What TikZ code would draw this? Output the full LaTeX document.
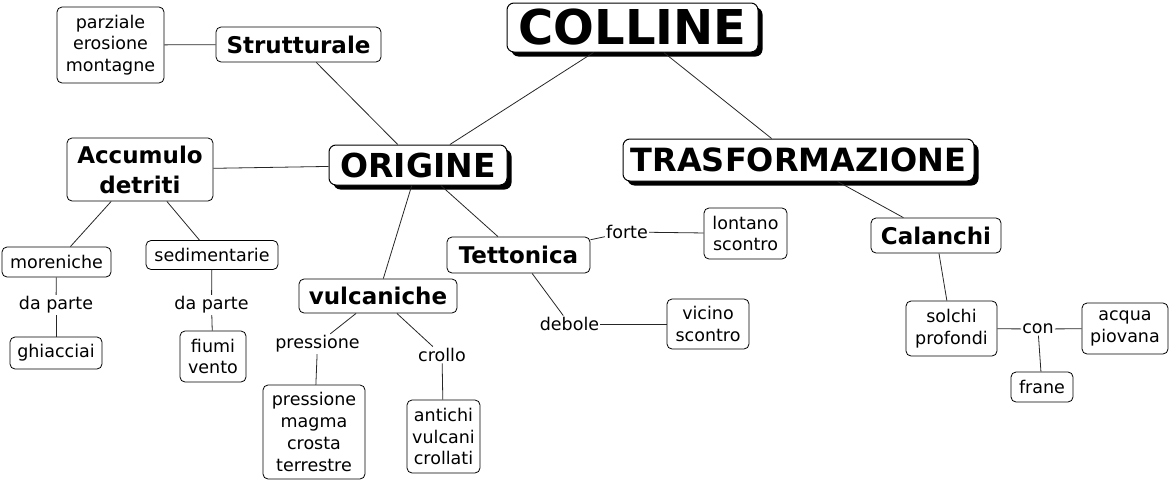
\documentclass[tikz,border=0pt]{standalone}
\usepackage{fontspec}
\setmainfont{DejaVu Sans}
\usetikzlibrary{shadows}
\tikzset{
  conn/.style={line width=0.8pt, black!85},
  box/.style={draw, line width=0.8pt, rounded corners=5pt, fill=white, align=center, inner sep=0pt, font=\fontsize{17.5}{21.8}\selectfont},
  bbox/.style={box, font=\fontsize{23}{30}\selectfont\bfseries},
  mainbox/.style={box, line width=1pt, rounded corners=7pt, drop shadow={fill=black, opacity=1, shadow xshift=4.5pt, shadow yshift=-4.5pt}},
  lab/.style={fill=white, inner xsep=1pt, inner ysep=1.5pt, font=\fontsize{17.5}{21.8}\selectfont},
}
\begin{document}
\begin{tikzpicture}[x=1pt, y=-1pt]
\useasboundingbox (0,0) rectangle (1171,482);
% main nodes
\node[mainbox, minimum width=251, minimum height=49, font=\fontsize{48}{58}\selectfont\bfseries] (colline) at (632.5,27.5) {COLLINE};
\node[mainbox, minimum width=178, minimum height=40, font=\fontsize{33}{40}\selectfont\bfseries] (origine) at (418,165) {ORIGINE};
\node[mainbox, minimum width=351, minimum height=42, font=\fontsize{32}{40}\selectfont\bfseries] (trasf) at (798.5,160) {TRASFORMAZIONE};
% level 2
\node[bbox, minimum width=165, minimum height=35] (strutturale) at (298.5,44.5) {Strutturale};
\node[bbox, minimum width=146, minimum height=63] (accumulo) at (140,169.5) {Accumulo\\detriti};
\node[bbox, minimum width=158, minimum height=34] (vulcaniche) at (378,296) {vulcaniche};
\node[bbox, minimum width=143, minimum height=36] (tettonica) at (518.5,255) {Tettonica};
\node[bbox, minimum width=130, minimum height=35] (calanchi) at (936,235.5) {Calanchi};
% leaves
\node[box, minimum width=107, minimum height=76] (parziale) at (110.5,45) {parziale\\erosione\\montagne};
\node[box, minimum width=109, minimum height=30] (moreniche) at (56.5,262) {moreniche};
\node[box, minimum width=132, minimum height=29] (sedimentarie) at (212,255) {sedimentarie};
\node[box, minimum width=92, minimum height=32] (ghiacciai) at (56,353) {ghiacciai};
\node[box, minimum width=66, minimum height=51] (fiumi) at (213,356.5) {fiumi\\vento};
\node[box, minimum width=102, minimum height=94] (pmct) at (314,432) {pressione\\magma\\crosta\\terrestre};
\node[box, minimum width=73, minimum height=73] (antichi) at (443.5,436.5) {antichi\\vulcani\\crollati};
\node[box, minimum width=83, minimum height=51] (lontano) at (745.5,233.5) {lontano\\scontro};
\node[box, minimum width=82, minimum height=50] (vicino) at (708,324) {vicino\\scontro};
\node[box, minimum width=91, minimum height=55] (solchi) at (951.5,328.5) {solchi\\profondi};
\node[box, minimum width=86, minimum height=51] (acqua) at (1125,328.5) {acqua\\piovana};
\node[box, minimum width=62, minimum height=30] (frane) at (1042,387) {frane};
% link labels
\node[lab] (dap1) at (56,305) {da parte};
\node[lab] (dap2) at (211.5,305) {da parte};
\node[lab] (lpress) at (317.5,344) {pressione};
\node[lab] (lcrollo) at (442,355) {crollo};
\node[lab] (lforte) at (627,232) {forte};
\node[lab] (ldebole) at (569.5,324) {debole};
\node[lab] (lcon) at (1038,329) {con};
% connectors
\draw[conn] (colline) -- (origine);
\draw[conn] (colline) -- (trasf);
\draw[conn] (strutturale) -- (origine);
\draw[conn] (strutturale) -- (parziale);
\draw[conn] (accumulo) -- (origine);
\draw[conn] (accumulo) -- (moreniche);
\draw[conn] (accumulo) -- (sedimentarie);
\draw[conn] (moreniche) -- (dap1);
\draw[conn] (dap1) -- (ghiacciai);
\draw[conn] (sedimentarie) -- (dap2);
\draw[conn] (dap2) -- (fiumi);
\draw[conn] (origine) -- (vulcaniche);
\draw[conn] (origine) -- (tettonica);
\draw[conn] (vulcaniche) -- (lpress);
\draw[conn] (lpress) -- (pmct);
\draw[conn] (vulcaniche) -- (lcrollo);
\draw[conn] (lcrollo) -- (antichi);
\draw[conn] (tettonica) -- (lforte);
\draw[conn] (lforte) -- (lontano);
\draw[conn] (tettonica) -- (ldebole);
\draw[conn] (ldebole) -- (vicino);
\draw[conn] (trasf) -- (calanchi);
\draw[conn] (calanchi) -- (solchi);
\draw[conn] (solchi) -- (lcon);
\draw[conn] (lcon) -- (acqua);
\draw[conn] (lcon) -- (frane);
\end{tikzpicture}
\end{document}
